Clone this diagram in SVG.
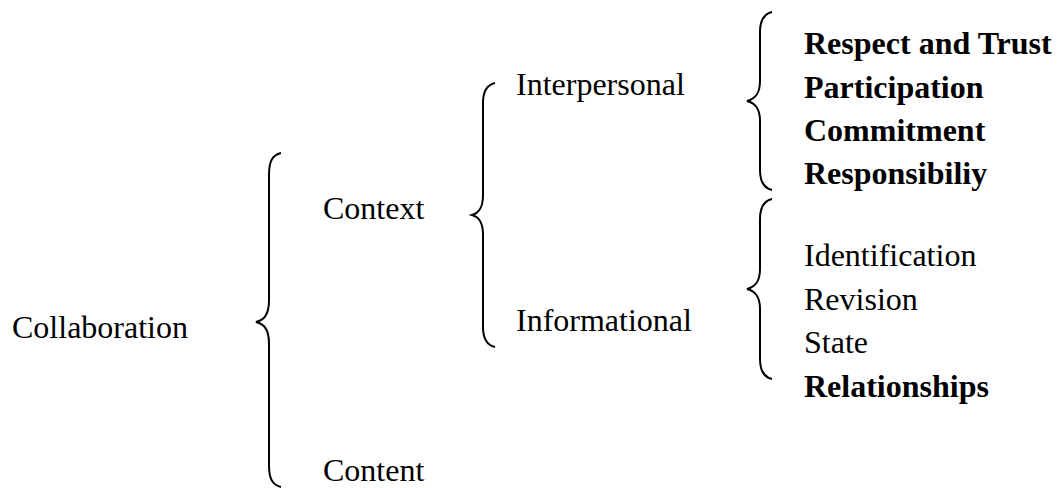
<svg xmlns="http://www.w3.org/2000/svg" width="1058" height="488" viewBox="0 0 1058 488">
<style>
text{font-family:"Liberation Serif","Times New Roman",serif;font-size:32px;fill:#000}
.b{font-weight:bold}
.br{fill:none;stroke:#000;stroke-width:2}
</style>
<rect width="1058" height="488" fill="#fff"/>
<g id="connectors">
<path class="br" d="M281,153 C272,155 269,162 269,175 L269,300 C269,315 264,320 256,322 C264,324 269,329 269,344 L269,465 C269,478 272,485 281,487"/>
<path class="br" d="M495,83 C486,85 483,92 483,103 L483,195 C483,208 479,213 472,215 C479,217 483,222 483,235 L483,327 C483,338 486,345 495,347"/>
<path class="br" d="M772,12 C763,14 760,21 760,32 L760,81 C760,94 755,99 747,101 C755,103 760,108 760,121 L760,170 C760,181 763,188 772,190"/>
<path class="br" d="M772,199 C763,201 760,208 760,219 L760,269 C760,282 755,287 747,289 C755,291 760,296 760,309 L760,359 C760,370 763,377 772,379"/>
</g>
<g id="collaboration"><text x="12" y="338">Collaboration</text></g>
<g id="context"><text x="323" y="219">Context</text></g>
<g id="content"><text x="323" y="481">Content</text></g>
<g id="interpersonal"><text x="516" y="95">Interpersonal</text></g>
<g id="informational"><text x="516" y="331">Informational</text></g>
<g id="respect"><text class="b" x="804" y="54">Respect and Trust</text></g>
<g id="participation"><text class="b" x="804" y="98">Participation</text></g>
<g id="commitment"><text class="b" x="804" y="141">Commitment</text></g>
<g id="responsibiliy"><text class="b" x="804" y="184">Responsibiliy</text></g>
<g id="identification"><text x="804" y="266">Identification</text></g>
<g id="revision"><text x="804" y="310">Revision</text></g>
<g id="state"><text x="804" y="353">State</text></g>
<g id="relationships"><text class="b" x="804" y="397">Relationships</text></g>
</svg>
